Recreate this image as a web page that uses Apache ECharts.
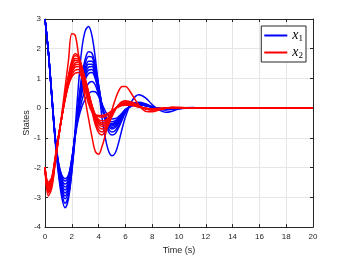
<!DOCTYPE html>
<html><head><meta charset="utf-8">
<script src="https://cdn.jsdelivr.net/npm/echarts@6/dist/echarts.min.js"></script>
<style>html,body{margin:0;padding:0;background:#fff}#c{width:346px;height:260px}</style>
</head><body><div id="c"></div>
<script>
const T = [0,0.25,0.5,0.75,1,1.25,1.5,1.75,2,2.25,2.5,2.75,3,3.25,3.5,3.75,4,4.25,4.5,4.75,5,5.25,5.5,5.75,6,6.5,7,7.5,8,8.5,9,9.5,10,11,12,20];

const x1_1 = [3.0,1.9,0.4,-1.05,-2.2,-3.0,-3.35,-3.05,-2.1,-0.7,0.8,2.0,2.6,2.75,2.45,1.7,0.7,-0.3,-1.0,-1.45,-1.6,-1.5,-1.15,-0.7,-0.3,0.25,0.45,0.35,0.12,-0.06,-0.14,-0.1,-0.02,0.02,0,0];
const x1_2 = [3.0,1.9,0.42,-1.0,-2.1,-2.85,-3.2,-2.95,-2.15,-1.0,0.2,1.1,1.65,1.9,1.85,1.45,0.8,0.1,-0.45,-0.8,-0.9,-0.85,-0.65,-0.4,-0.15,0.15,0.2,0.15,0.05,-0.03,-0.06,-0.04,-0.01,0.01,0,0];
const x1_3 = [3.0,1.9,0.43,-0.98,-2.05,-2.75,-3.05,-2.8,-2.05,-0.95,0.15,0.95,1.5,1.74,1.72,1.35,0.75,0.1,-0.4,-0.7,-0.8,-0.75,-0.58,-0.35,-0.12,0.14,0.18,0.13,0.05,-0.02,-0.05,-0.03,-0.01,0.01,0,0];
const x1_4 = [3.0,1.9,0.44,-0.97,-2.0,-2.68,-2.95,-2.7,-1.95,-0.9,0.1,0.85,1.35,1.58,1.58,1.25,0.7,0.1,-0.35,-0.62,-0.7,-0.65,-0.5,-0.3,-0.1,0.12,0.16,0.12,0.04,-0.02,-0.04,-0.03,-0.01,0.01,0,0];
const x1_5 = [3.0,1.9,0.45,-0.96,-1.97,-2.6,-2.85,-2.62,-1.9,-0.88,0.05,0.78,1.25,1.48,1.48,1.18,0.65,0.08,-0.33,-0.58,-0.65,-0.6,-0.45,-0.27,-0.08,0.12,0.15,0.1,0.04,-0.02,-0.04,-0.02,-0.01,0.01,0,0];
const x1_6 = [3.0,1.9,0.46,-0.95,-1.94,-2.52,-2.75,-2.55,-1.85,-0.85,0.0,0.7,1.15,1.38,1.4,1.12,0.6,0.05,-0.32,-0.55,-0.6,-0.55,-0.42,-0.25,-0.07,0.11,0.14,0.1,0.03,-0.02,-0.03,-0.02,0,0.01,0,0];
const x1_7 = [3.0,1.9,0.47,-0.94,-1.9,-2.45,-2.65,-2.47,-1.8,-0.85,-0.05,0.6,1.05,1.28,1.3,1.05,0.55,0.02,-0.3,-0.5,-0.55,-0.5,-0.38,-0.22,-0.06,0.1,0.13,0.09,0.03,-0.01,-0.03,-0.02,0,0.01,0,0];
const x1_8 = [3.0,1.9,0.48,-0.93,-1.87,-2.38,-2.55,-2.38,-1.75,-0.85,-0.1,0.5,0.95,1.17,1.2,1.0,0.55,0.05,-0.3,-0.48,-0.52,-0.47,-0.35,-0.2,-0.05,0.1,0.12,0.08,0.03,-0.01,-0.03,-0.02,0,0.01,0,0];
const x1_9 = [3.0,1.9,0.49,-0.92,-1.84,-2.3,-2.45,-2.3,-1.72,-0.9,-0.25,0.25,0.62,0.84,0.9,0.78,0.45,0.05,-0.25,-0.42,-0.46,-0.42,-0.32,-0.18,-0.05,0.08,0.11,0.08,0.03,-0.01,-0.02,-0.01,0,0,0,0];
const x1_10 = [3.0,1.9,0.5,-0.9,-1.8,-2.25,-2.37,-2.25,-1.7,-0.95,-0.35,0.05,0.3,0.48,0.56,0.55,0.4,0.15,-0.1,-0.28,-0.36,-0.35,-0.28,-0.17,-0.06,0.08,0.12,0.09,0.04,0,-0.02,-0.01,0,0,0,0];

const x2_1 = [-2.0,-2.95,-2.7,-1.9,-1.05,-0.2,0.7,1.6,2.5,2.45,1.8,1.1,0.3,-0.35,-0.95,-1.45,-1.55,-1.3,-0.9,-0.45,-0.05,0.3,0.58,0.73,0.73,0.45,0.1,-0.1,-0.12,-0.06,0.0,0.03,0.03,0,0,0];
const x2_2 = [-2.0,-2.85,-2.6,-1.85,-1.05,-0.3,0.45,1.1,1.6,1.83,1.75,1.4,0.9,0.4,-0.1,-0.55,-0.82,-0.9,-0.78,-0.55,-0.28,-0.05,0.12,0.22,0.25,0.2,0.08,-0.02,-0.06,-0.04,0,0.02,0.01,0,0,0];
const x2_3 = [-2.0,-2.8,-2.57,-1.83,-1.03,-0.3,0.43,1.05,1.52,1.76,1.7,1.38,0.9,0.42,-0.05,-0.47,-0.72,-0.8,-0.7,-0.5,-0.25,-0.04,0.11,0.2,0.22,0.18,0.07,-0.02,-0.05,-0.03,0,0.02,0.01,0,0,0];
const x2_4 = [-2.0,-2.75,-2.54,-1.81,-1.02,-0.3,0.4,1.0,1.45,1.67,1.66,1.38,0.95,0.48,0.02,-0.38,-0.62,-0.7,-0.64,-0.46,-0.22,-0.02,0.1,0.18,0.2,0.16,0.06,-0.02,-0.05,-0.03,0,0.01,0.01,0,0,0];
const x2_5 = [-2.0,-2.7,-2.5,-1.79,-1.0,-0.3,0.38,0.95,1.38,1.6,1.6,1.35,0.95,0.5,0.05,-0.3,-0.53,-0.62,-0.58,-0.42,-0.2,-0.02,0.09,0.16,0.18,0.15,0.06,-0.01,-0.04,-0.03,0,0.01,0.01,0,0,0];
const x2_6 = [-2.0,-2.66,-2.46,-1.77,-0.99,-0.3,0.36,0.92,1.32,1.52,1.55,1.35,0.98,0.55,0.1,-0.25,-0.47,-0.55,-0.52,-0.38,-0.18,-0.01,0.09,0.15,0.17,0.14,0.05,-0.01,-0.04,-0.02,0,0.01,0.01,0,0,0];
const x2_7 = [-2.0,-2.62,-2.43,-1.75,-0.98,-0.3,0.34,0.88,1.26,1.45,1.48,1.3,0.95,0.52,0.1,-0.22,-0.42,-0.5,-0.47,-0.35,-0.17,-0.01,0.08,0.14,0.15,0.13,0.05,-0.01,-0.03,-0.02,0,0.01,0,0,0,0];
const x2_8 = [-2.0,-2.58,-2.4,-1.73,-0.97,-0.3,0.32,0.85,1.2,1.38,1.4,1.22,0.88,0.45,0.05,-0.22,-0.38,-0.42,-0.4,-0.3,-0.15,-0.01,0.07,0.12,0.13,0.11,0.05,-0.01,-0.03,-0.02,0,0.01,0,0,0,0];
const x2_9 = [-2.0,-2.53,-2.36,-1.71,-0.96,-0.3,0.3,0.8,1.12,1.28,1.3,1.12,0.75,0.3,-0.05,-0.22,-0.28,-0.3,-0.28,-0.22,-0.12,-0.01,0.06,0.1,0.12,0.1,0.04,0,-0.02,-0.01,0,0,0,0,0,0];
const x2_10 = [-2.0,-2.48,-2.33,-1.69,-0.95,-0.3,0.28,0.76,1.05,1.18,1.2,1.02,0.6,0.15,-0.12,-0.22,-0.25,-0.25,-0.22,-0.16,-0.08,0,0.05,0.09,0.1,0.09,0.04,0,-0.02,-0.01,0,0,0,0,0,0];

const blueSeries = [x1_1,x1_2,x1_3,x1_4,x1_5,x1_6,x1_7,x1_8,x1_9,x1_10];
const redSeries = [x2_1,x2_2,x2_3,x2_4,x2_5,x2_6,x2_7,x2_8,x2_9,x2_10];
const xTicks = [0,2,4,6,8,10,12,14,16,18,20];
const yTicks = [-4,-3,-2,-1,0,1,2,3];

const axisCol = '#262626';
const mk = (arr, name, color) => ({
  type: 'line', name: name, xAxisIndex: 0, yAxisIndex: 0,
  data: T.map((t, i) => [t, arr[i]]),
  showSymbol: false, smooth: 0.35,
  lineStyle: {color: color, width: 1.5}, itemStyle: {color: color},
  emphasis: {disabled: true}, animation: false
});
const series = [];
blueSeries.forEach(a => series.push(mk(a, 'x1', '#0000ff')));
redSeries.forEach(a => series.push(mk(a, 'x2', '#ff0000')));

const chart = echarts.init(document.getElementById('c'), null, {renderer: 'canvas'});
const baseAxis = {
  axisLine: {show: true, onZero: false, lineStyle: {color: axisCol, width: 1}},
  axisTick: {show: true, inside: true, length: 3, lineStyle: {color: axisCol}},
  splitLine: {show: false}
};
chart.setOption({
  animation: false,
  backgroundColor: '#ffffff',
  grid: {left: 45, right: 33, top: 19, bottom: 29, containLabel: false},
  legend: {
    data: ['x1', 'x2'], orient: 'vertical', right: 40, top: 26,
    backgroundColor: '#ffffff', borderColor: axisCol, borderWidth: 1,
    padding: [2, 3, 2, 3], itemGap: 2, itemWidth: 23, itemHeight: 2,
    icon: 'rect',
    formatter: n => n === 'x1' ? '{v|x}{s|1}' : '{v|x}{s|2}',
    textStyle: {
      rich: {
        v: {fontFamily: 'Liberation Serif', fontStyle: 'italic', fontSize: 14, color: '#000', lineHeight: 14},
        s: {fontFamily: 'Liberation Serif', fontSize: 9, color: '#000', padding: [6, 0, 0, 0], lineHeight: 14}
      }
    }
  },
  xAxis: [
    Object.assign({}, baseAxis, {
      type: 'value', min: 0, max: 20, interval: 2, position: 'bottom',
      splitLine: {show: true, lineStyle: {color: '#e6e6e6', width: 1}},
      axisLabel: {color: axisCol, fontSize: 8, fontFamily: 'Liberation Sans', margin: 6, formatter: v => xTicks.includes(v) ? String(v) : ''},
      name: 'Time (s)', nameLocation: 'middle', nameGap: 17,
      nameTextStyle: {color: axisCol, fontSize: 9, fontFamily: 'Liberation Sans'}
    }),
    Object.assign({}, baseAxis, {
      type: 'value', min: 0, max: 20, interval: 2, position: 'top',
      axisLabel: {show: false}
    })
  ],
  yAxis: [
    Object.assign({}, baseAxis, {
      type: 'value', min: -4, max: 3, interval: 1, position: 'left',
      splitLine: {show: true, lineStyle: {color: '#e6e6e6', width: 1}},
      axisLabel: {color: axisCol, fontSize: 8, fontFamily: 'Liberation Sans', margin: 4, formatter: v => yTicks.includes(v) ? String(v) : ''},
      name: 'States', nameLocation: 'middle', nameGap: 14, nameRotate: 90, nameMoveOverlap: false,
      nameTextStyle: {color: axisCol, fontSize: 9, fontFamily: 'Liberation Sans'}
    }),
    Object.assign({}, baseAxis, {
      type: 'value', min: -4, max: 3, interval: 1, position: 'right',
      axisLabel: {show: false}
    })
  ],
  series: series
});
</script>
</body></html>
